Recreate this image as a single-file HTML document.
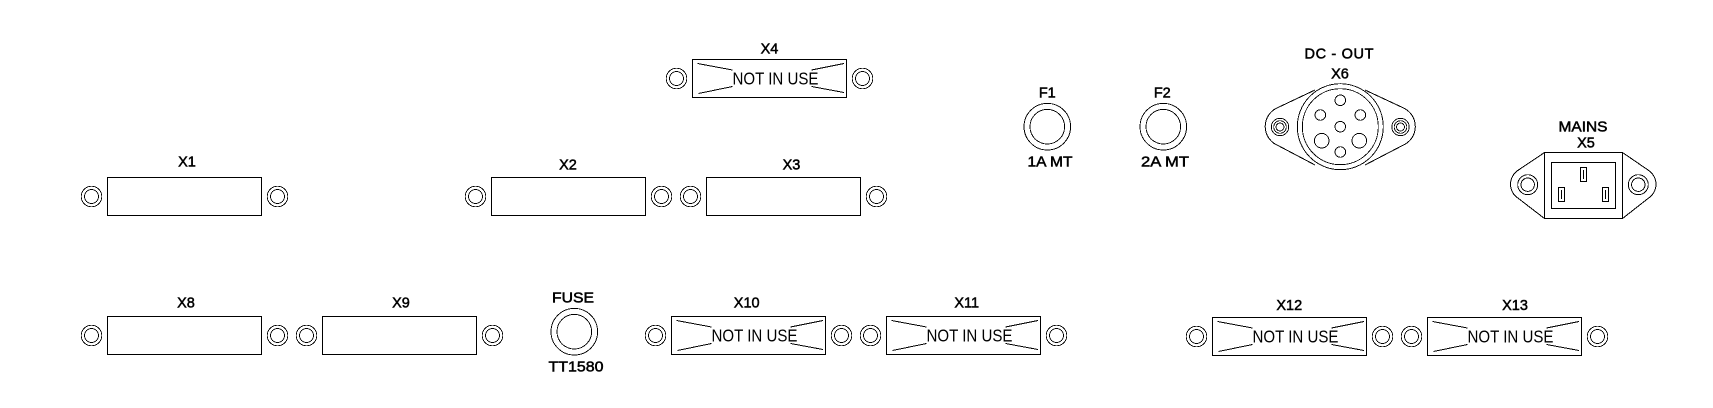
<!DOCTYPE html>
<html><head><meta charset="utf-8"><style>
html,body{margin:0;padding:0;background:#fff;width:1713px;height:408px;overflow:hidden}
svg{display:block}
text{font-family:"Liberation Sans",Arial,sans-serif;fill:#000;text-anchor:middle}
.l{font-size:14.5px;stroke:#000;stroke-width:.5}
.n{font-size:17.5px;text-anchor:start}
.s{fill:none;stroke:#000;stroke-width:1;shape-rendering:crispEdges}
.s circle{stroke-width:.9}
</style></head><body>
<svg width="1713" height="408" viewBox="0 0 1713 408" xmlns="http://www.w3.org/2000/svg">
<defs>
<g id="sc" class="s"><circle r="10.300"/><circle r="7"/></g>
<g id="c"><rect class="s" x="0" y="0" width="154" height="38"/><use href="#sc" x="-16" y="19"/><use href="#sc" x="170" y="19"/></g>
<path id="m" class="s" d="M5 4L40 10.5M6 34L40 27M151.500 4L119 10.500M151.500 33L119 27"/>
<g id="f" class="s"><circle r="23.300"/><circle r="17.300"/></g>
</defs>

<use href="#c" x="107.500" y="177.500"/>
<use href="#c" x="491.500" y="177.500"/>
<use href="#c" x="706.500" y="177.500"/>
<use href="#c" x="107.500" y="316.500"/>
<use href="#c" x="322.500" y="316.500"/>
<use href="#c" x="692.500" y="59.500"/><use href="#m" x="692.500" y="59.500"/>
<use href="#c" x="671.500" y="316.500"/><use href="#m" x="671.500" y="316.500"/>
<use href="#c" x="886.500" y="316.500"/><use href="#m" x="886.500" y="316.500"/>
<use href="#c" x="1212.500" y="317.500"/><use href="#m" x="1212.500" y="317.500"/>
<use href="#c" x="1427.500" y="317.500"/><use href="#m" x="1427.500" y="317.500"/>

<text class="l" x="187" y="166.700">X1</text>
<text class="l" x="568" y="169.300">X2</text>
<text class="l" x="791.500" y="169.300">X3</text>
<text class="l" x="769.500" y="53.300">X4</text>
<text class="l" x="186" y="307.300">X8</text>
<text class="l" x="401" y="307.300">X9</text>
<text class="l" x="746.700" y="307.300">X10</text>
<text class="l" x="966.700" y="307.300">X11</text>
<text class="l" x="1289.300" y="310">X12</text>
<text class="l" x="1515" y="310">X13</text>

<text class="n" x="732.500" y="84.500" textLength="86" lengthAdjust="spacingAndGlyphs">NOT IN USE</text>
<text class="n" x="711.500" y="341.500" textLength="86" lengthAdjust="spacingAndGlyphs">NOT IN USE</text>
<text class="n" x="926.500" y="341.500" textLength="86" lengthAdjust="spacingAndGlyphs">NOT IN USE</text>
<text class="n" x="1252.500" y="342.500" textLength="86" lengthAdjust="spacingAndGlyphs">NOT IN USE</text>
<text class="n" x="1467.500" y="342.500" textLength="86" lengthAdjust="spacingAndGlyphs">NOT IN USE</text>

<use href="#f" x="1047.300" y="126.700"/>
<use href="#f" x="1163.300" y="126.700"/>
<use href="#f" x="574.300" y="331.700"/>
<text class="l" x="1047.300" y="97.700">F1</text>
<text class="l" x="1162.300" y="97.700">F2</text>
<text class="l" x="1050" y="166.700" textLength="45" lengthAdjust="spacingAndGlyphs">1A MT</text>
<text class="l" x="1165" y="166.700" textLength="48" lengthAdjust="spacingAndGlyphs">2A MT</text>
<text class="l" x="573" y="302.300" textLength="42" lengthAdjust="spacingAndGlyphs">FUSE</text>
<text class="l" x="576" y="371.700" textLength="55" lengthAdjust="spacingAndGlyphs">TT1580</text>

<g class="s">
<path d="M1315 90L1278 107.500A20.500 20.500 0 0 0 1278 145.500L1315 165M1365 90L1402.500 107.500A20.500 20.500 0 0 1 1402.500 145.500L1365 165"/>
<circle cx="1340.300" cy="126.700" r="43" fill="#fff"/><circle cx="1340.300" cy="126.700" r="38"/>
<circle cx="1340.300" cy="100.300" r="5.300"/><circle cx="1320.300" cy="115" r="5.300"/><circle cx="1360.300" cy="115" r="5.300"/>
<circle cx="1340.300" cy="126.700" r="5.300"/><circle cx="1340.300" cy="152" r="5.300"/>
<circle cx="1321.700" cy="140.700" r="7.300"/><circle cx="1359.300" cy="140.700" r="7.300"/>
<circle cx="1280" cy="127" r="8.700"/><circle cx="1280" cy="127" r="6.300"/><circle cx="1280" cy="127" r="4"/>
<circle cx="1400.500" cy="127" r="8.700"/><circle cx="1400.500" cy="127" r="6.300"/><circle cx="1400.500" cy="127" r="4"/>
</g>
<text class="l" x="1339" y="58.700" textLength="69" lengthAdjust="spacing">DC - OUT</text>
<text class="l" x="1340" y="78.700">X6</text>

<g class="s">
<path d="M1544.500 152.500H1622.500L1648 170A16.700 16.700 0 0 1 1648 198.500L1622.500 218.500H1544.500L1518.500 198.500A16.700 16.700 0 0 1 1518.500 170Z"/>
<rect x="1544.500" y="152.500" width="78" height="66"/>
<rect x="1551.500" y="162.500" width="64" height="46"/>
<rect x="1580.500" y="167.500" width="6" height="14"/><path d="M1583.500 170V179"/>
<rect x="1558.500" y="187.500" width="6" height="14"/><path d="M1561.500 190V199"/>
<rect x="1602.500" y="187.500" width="6" height="14"/><path d="M1605.500 190V199"/>
<circle cx="1527.700" cy="184.700" r="10"/><circle cx="1527.700" cy="184.700" r="6.700"/>
<circle cx="1638.300" cy="184.700" r="10"/><circle cx="1638.300" cy="184.700" r="6.700"/>
</g>
<text class="l" x="1583" y="131.700" textLength="49" lengthAdjust="spacingAndGlyphs">MAINS</text>
<text class="l" x="1586" y="147.300">X5</text>
</svg>
</body></html>
